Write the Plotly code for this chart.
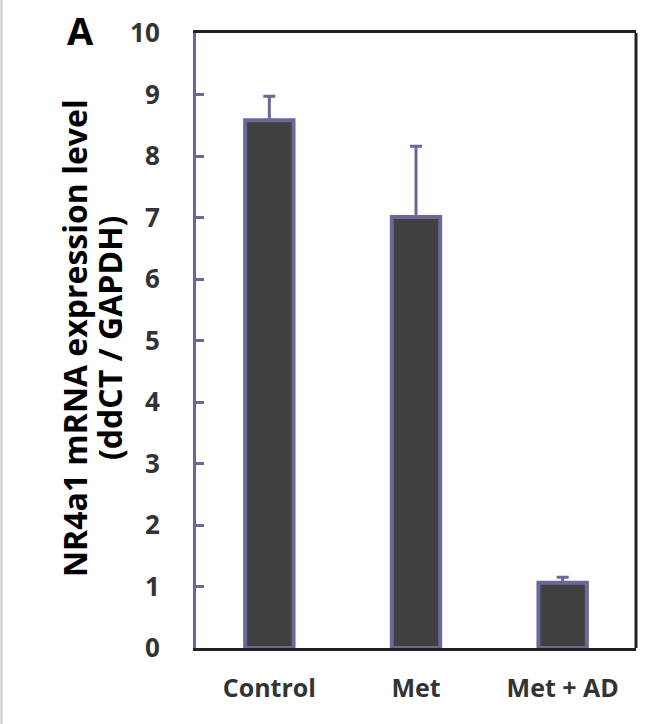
import plotly.graph_objects as go

categories = ["Control", "Met", "Met + AD"]
values = [8.58, 7.01, 1.06]
errors = [0.39, 1.15, 0.09]
y_ticks = [0, 1, 2, 3, 4, 5, 6, 7, 8, 9, 10]

BLUE = "#686899"
FILL = "#404040"
FONT = "Open Sans"

L, R, T, B = 196, 28, 33, 76
W, H = 664, 724
pw = W - L - R
ph = H - T - B

fig = go.Figure()
fig.add_trace(go.Bar(
    x=categories, y=values,
    marker=dict(color=FILL, line=dict(color=BLUE, width=4)),
    width=0.33,
    error_y=dict(type="data", symmetric=False, array=errors,
                 arrayminus=[0, 0, 0], color=BLUE, thickness=3, width=6),
))

fig.update_layout(
    width=W, height=H,
    margin=dict(l=L, r=R, t=T, b=B, pad=0),
    paper_bgcolor="white", plot_bgcolor="white",
    showlegend=False,
    font=dict(family=FONT, color="#333333"),
    xaxis=dict(showline=True, linecolor="#222222", linewidth=3, mirror=True,
               ticks="", showgrid=False,
               tickfont=dict(size=25, family=FONT, color="#333333", weight="bold"),
               ticklabelstandoff=16),
    yaxis=dict(range=[0, 10], tickvals=y_ticks, showgrid=False, zeroline=False,
               showline=True, linecolor=BLUE, linewidth=3,
               ticks="inside", ticklen=8, tickwidth=3, tickcolor=BLUE,
               tickfont=dict(size=26, family=FONT, color="#333333", weight="bold"),
               ticklabelstandoff=28),
)

# right border (black)
fig.add_shape(type="line", xref="paper", yref="paper", x0=1, x1=1, y0=0, y1=1,
              line=dict(color="#222222", width=3))
# left-edge light grey line
fig.add_shape(type="line", xref="paper", yref="paper",
              x0=-(L - 1.5) / pw, x1=-(L - 1.5) / pw, y0=-B / ph, y1=(ph + T) / ph,
              line=dict(color="#c8c8c8", width=2))

title_y = (H - B - 338) / ph
fig.add_annotation(text="<b>NR4a1 mRNA expression level</b>", textangle=-90,
                   xref="paper", yref="paper", x=-(L - 74) / pw, y=title_y,
                   showarrow=False, font=dict(size=32, family=FONT, color="black"),
                   xanchor="center", yanchor="middle")
fig.add_annotation(text="<b>(ddCT / GAPDH)</b>", textangle=-90,
                   xref="paper", yref="paper", x=-(L - 109) / pw, y=title_y,
                   showarrow=False, font=dict(size=32, family=FONT, color="black"),
                   xanchor="center", yanchor="middle")
fig.add_annotation(text="<b>A</b>", xref="paper", yref="paper",
                   x=-(L - 80) / pw, y=(H - B - 30) / ph,
                   showarrow=False, font=dict(size=38, family=FONT, color="black"),
                   xanchor="center", yanchor="middle")

fig.write_html("out.html")
